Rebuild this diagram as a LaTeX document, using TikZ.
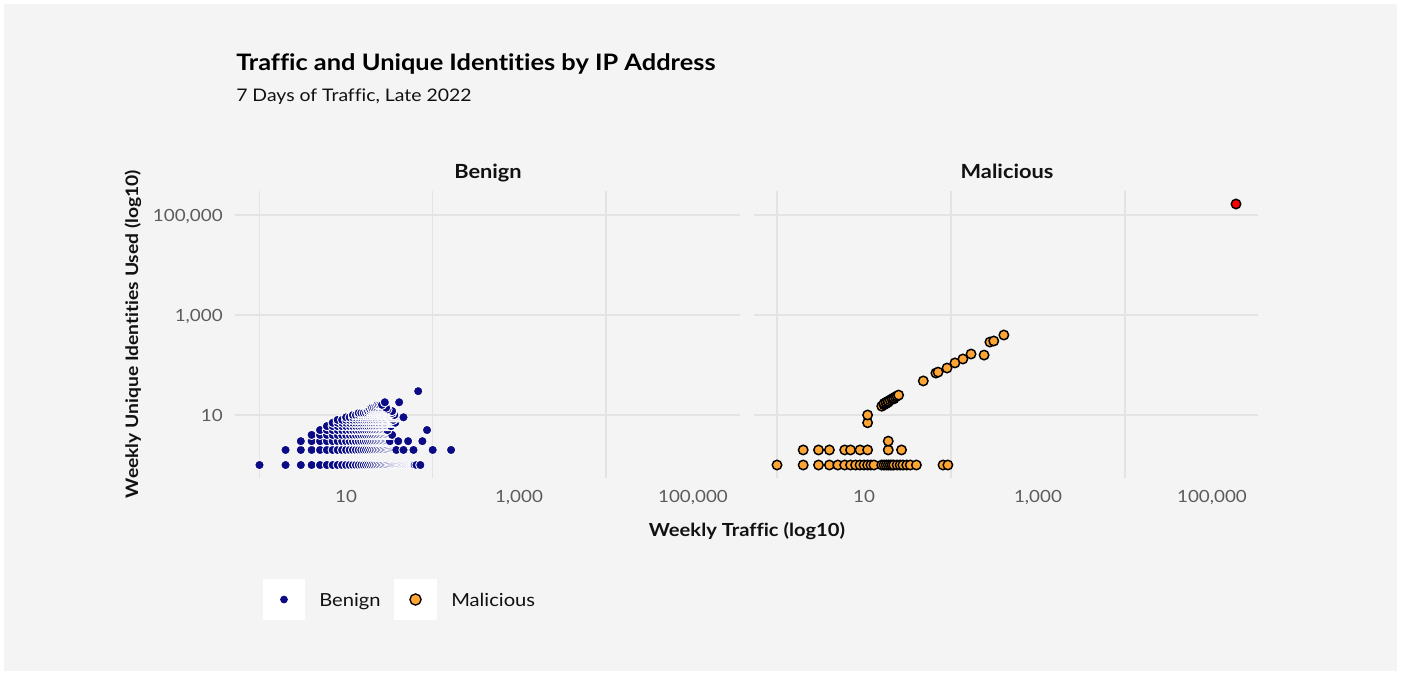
\documentclass[tikz,border=0pt]{standalone}
\usepackage{fontspec}
\setmainfont{Lato}[FakeStretch=1.12, Ligatures=NoCommon]
\definecolor{bg}{HTML}{F4F4F4}
\definecolor{gridc}{HTML}{E3E3E3}
\definecolor{benignc}{HTML}{0B0B85}
\definecolor{malc}{HTML}{FFA533}
\definecolor{tickc}{HTML}{5C5C5C}
\definecolor{inkc}{HTML}{111111}

% benign point: log-log position in the left facet
\newcommand\bpt[2]{\filldraw[benignpt] ({259.5+86.6*log10(#1)},{465-50*log10(#2)}) circle (3.5pt);}
% malicious point: log-log position in the right facet
\newcommand\mpt[2]{\filldraw[malpt] ({777+87*log10(#1)},{465-50*log10(#2)}) circle (3.55pt);}

\tikzset{
  gridline/.style={draw=gridc, line width=0.9pt},
  benignpt/.style={fill=benignc, draw=white, line width=0.65pt},
  malpt/.style={fill=malc, draw=black, line width=1.1pt},
  ticklabel/.style={text=tickc, font=\fontsize{12.6}{14}\selectfont, inner sep=0pt},
  facetlabel/.style={text=inkc, font=\fontsize{14.6}{17}\selectfont\bfseries, inner sep=0pt, anchor=base},
  axistitle/.style={text=inkc, font=\fontsize{13.5}{16}\selectfont\bfseries, inner sep=0pt, anchor=base},
  legendtext/.style={text=inkc, font=\fontsize{13.5}{16}\selectfont, inner sep=0pt, anchor=base west},
  keybox/.style={fill=white, draw=none},
}

\begin{document}
\begin{tikzpicture}[x=0.75pt,y=-0.75pt]
\useasboundingbox (0,0) rectangle (1401,675);
\fill[white] (0,0) rectangle (1401,675);
\fill[bg] (4,4) rectangle (1397,671);

% titles
\node[text=black, font=\fontsize{17}{20}\selectfont\bfseries, inner sep=0pt, anchor=base west] (title) at (236,70) {Traffic and Unique Identities by IP Address};
\node[text=inkc, font=\fontsize{13}{15}\selectfont, inner sep=0pt, anchor=base west] (subtitle) at (236,101) {7 Days of Traffic, Late 2022};

% facet strips
\node[facetlabel] (benignstrip) at (488,178) {Benign};
\node[facetlabel] (malstrip) at (1007,178) {Malicious};

% grid
\foreach \yy in {215,315,415} {
  \draw[gridline] (235,\yy) -- (740,\yy);
  \draw[gridline] (754,\yy) -- (1258,\yy);
}
\foreach \xx in {259.5,432.7,605.9} \draw[gridline] (\xx,191) -- (\xx,478);
\foreach \xx in {777,951,1125} \draw[gridline] (\xx,191) -- (\xx,478);

% y tick labels
\node[ticklabel, anchor=base east] (y5) at (223,221.5) {100,000};
\node[ticklabel, anchor=base east] (y3) at (223,321.5) {1,000};
\node[ticklabel, anchor=base east] (y1) at (223,421.5) {10};

% x tick labels
\node[ticklabel, anchor=base] (bx1) at (346,502) {10};
\node[ticklabel, anchor=base] (bx3) at (519,502) {1,000};
\node[ticklabel, anchor=base] (bx5) at (693,502) {100,000};
\node[ticklabel, anchor=base] (mx1) at (864,502) {10};
\node[ticklabel, anchor=base] (mx3) at (1038,502) {1,000};
\node[ticklabel, anchor=base] (mx5) at (1212,502) {100,000};

% axis titles
\node[axistitle] (xtitle) at (747,536) {Weekly Traffic (log10)};
\node[axistitle, font=\fontsize{12.9}{16}\selectfont\bfseries, rotate=90] (ytitle) at (138,334) {Weekly Unique Identities Used (log10)};

% benign points: rows of identities, traffic ranges
\foreach \v/\a/\b in {1/1/62, 2/2/38, 3/3/32, 4/4/34, 5/5/30, 6/6/33, 7/7/37, 8/8/35,
                      9/10/46, 10/12/36, 11/14/34, 12/18/34, 13/19/30, 14/20/29, 16/23/26} {
  \foreach \x in {\a,...,\b} {\bpt{\x}{\v}}
}
\foreach \x/\v in {65/1, 72/1, 46/2, 60/2, 100/2, 163/2, 40/3, 52/3, 76/3, 86/5,
                   28/18, 41/18, 68/30} {\bpt{\x}{\v}}

% malicious points
\foreach \x in {1,...,13,16,17,18,19,20,21,22,24,26,28,31,34,40,81,92} {\mpt{\x}{1}}
\foreach \x in {2,3,4,6,7,9,11,19,27} {\mpt{\x}{2}}
\mpt{19}{3}
\mpt{11}{7}
\mpt{11}{10}
\foreach \x/\v in {16/15,17/16,17/17,18/17,18/18,19/18,19/19,20/20,21/21,22/21,22/22,23/23,24/24,25/25} {\mpt{\x}{\v}}
\foreach \x/\v in {48/48,67/69,71/72,90/87,111/110,137/132,170/166,240/158,280/288,310/302,405/398} {\mpt{\x}{\v}}
\filldraw[malpt, fill=red] (1236,204) circle (3.55pt);

% legend
\node[keybox, minimum width=31.5pt, minimum height=31pt, inner sep=0pt] (keyb) at (284,599.5) {};
\node[keybox, minimum width=32pt, minimum height=31pt, inner sep=0pt] (keym) at (415.5,599.5) {};
\fill[benignc] (keyb.center) circle (2.9pt);
\filldraw[malpt, line width=1pt] (keym.center) circle (4.2pt);
\node[legendtext] (legb) at (319,606) {Benign};
\node[legendtext] (legm) at (451,606) {Malicious};
\end{tikzpicture}
\end{document}
